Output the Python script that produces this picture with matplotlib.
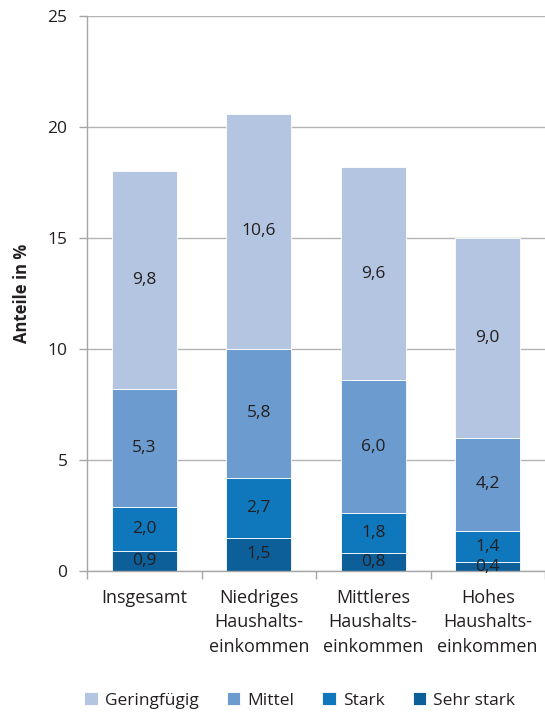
import numpy as np
import matplotlib.pyplot as plt

plt.rcParams['font.family'] = ['Open Sans', 'DejaVu Sans']

categories = ['Insgesamt', 'Niedriges\nHaushalts-\neinkommen',
              'Mittleres\nHaushalts-\neinkommen', 'Hohes\nHaushalts-\neinkommen']
sehr_stark = [0.9, 1.5, 0.8, 0.4]
stark = [2.0, 2.7, 1.8, 1.4]
mittel = [5.3, 5.8, 6.0, 4.2]
geringfuegig = [9.8, 10.6, 9.6, 9.0]

series = [('Sehr stark', sehr_stark, '#0d5f99'),
          ('Stark', stark, '#0f77bb'),
          ('Mittel', mittel, '#6b9bcf'),
          ('Geringfügig', geringfuegig, '#b3c5e1')]

fig = plt.figure(figsize=(5.45, 7.13), dpi=100)
ax = fig.add_axes([87 / 545, 142 / 713, 458 / 545, 555 / 713])

x = np.arange(len(categories))
bottom = np.zeros(len(categories))
bars = {}
for name, vals, col in series:
    b = ax.bar(x, vals, 0.57, bottom=bottom, color=col, edgecolor='white',
               linewidth=0.6, label=name, zorder=2)
    bars[name] = b
    for xi, v, bt in zip(x, vals, bottom):
        ax.text(xi, bt + v / 2, f'{v:.1f}'.replace('.', ','), ha='center',
                va='center', fontsize=12.5, color='#231f20', zorder=3)
    bottom += np.array(vals)

ax.set_xlim(-0.5, 3.5)
ax.set_ylim(0, 25)
ax.set_yticks([0, 5, 10, 15, 20, 25])
ax.yaxis.grid(True, color='#b4b4b4', linewidth=1)
ax.set_axisbelow(True)
ax.set_xticks(x)
ax.set_xticklabels(categories, fontsize=13, color='#231f20', linespacing=1.45)
ax.set_xticks(np.arange(-0.5, 3.6, 1), minor=True)
ax.tick_params(axis='x', which='major', length=0, pad=13)
ax.tick_params(axis='x', which='minor', length=6, color='#a6a6a6', width=1)
ax.tick_params(axis='y', length=6, color='#a6a6a6', width=1, labelsize=12.5,
               labelcolor='#231f20', pad=8)
for s in ['top', 'right']:
    ax.spines[s].set_visible(False)
for s in ['left', 'bottom']:
    ax.spines[s].set_color('#a6a6a6')
    ax.spines[s].set_linewidth(1)
ax.set_ylabel('Anteile in %', fontsize=12, fontweight='bold', color='#231f20',
              labelpad=12)

handles = [bars[n] for n in ['Geringfügig', 'Mittel', 'Stark', 'Sehr stark']]
fig.legend(handles, ['Geringfügig', 'Mittel', 'Stark', 'Sehr stark'],
           loc='center', bbox_to_anchor=(0.55, 0.018), ncol=4, frameon=False,
           fontsize=12.5, handlelength=0.8, handleheight=0.8, handletextpad=0.4,
           columnspacing=1.6, labelcolor='#231f20')

fig.savefig('out.png', dpi=100)
